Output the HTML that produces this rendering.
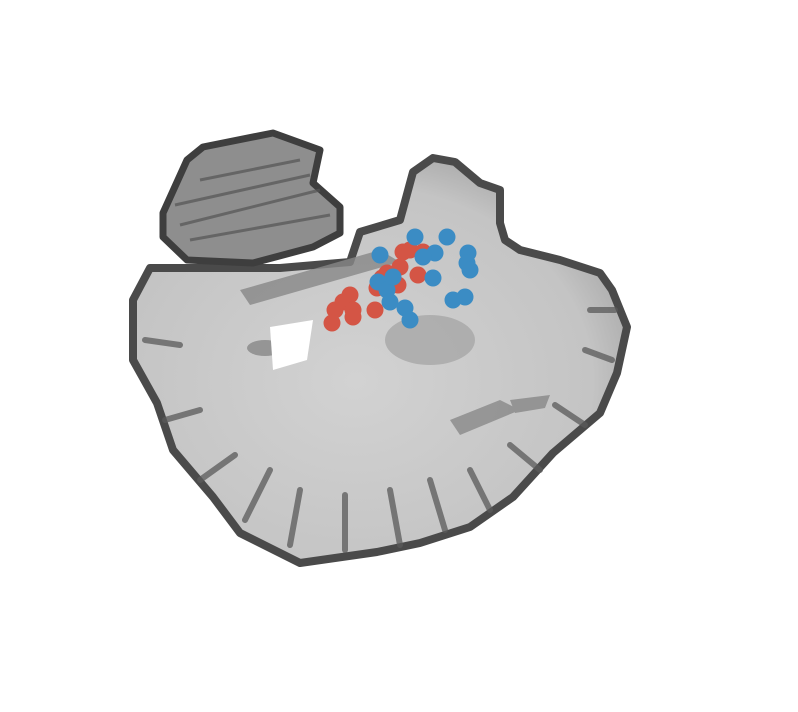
<!DOCTYPE html>
<html><head><meta charset="utf-8"><style>html,body{margin:0;padding:0;background:#fff;width:798px;height:712px;overflow:hidden}</style></head>
<body>
<svg width="798" height="712" viewBox="0 0 798 712" xmlns="http://www.w3.org/2000/svg">
<defs>
<radialGradient id="wm" cx="0.45" cy="0.55" r="0.6"><stop offset="0" stop-color="#d2d2d2"/><stop offset="0.8" stop-color="#c4c4c4"/><stop offset="1" stop-color="#a8a8a8"/></radialGradient>
</defs>
<g>
<path fill="url(#wm)" stroke="#4a4a4a" stroke-width="8" stroke-linejoin="round"
 d="M133,300 L150,268 L280,268 L350,262 L360,232 L400,220 L413,172 L433,158 L455,162 L480,183 L500,190 L500,223 L505,240 L520,250 L560,260 L600,273 L612,290 L627,327 L617,373 L600,413 L553,453 L513,497 L470,527 L420,543 L377,552 L300,563 L240,533 L213,497 L173,450 L157,403 L133,360 Z"/>
<g stroke="#5a5a5a" stroke-width="6" stroke-linecap="round" fill="none" opacity="0.75">
<path d="M200,480 L235,455"/><path d="M245,520 L270,470"/><path d="M290,545 L300,490"/><path d="M345,550 L345,495"/><path d="M400,545 L390,490"/><path d="M445,530 L430,480"/><path d="M490,510 L470,470"/><path d="M540,470 L510,445"/><path d="M585,425 L555,405"/><path d="M612,360 L585,350"/><path d="M615,310 L590,310"/><path d="M165,420 L200,410"/><path d="M145,340 L180,345"/>
</g>
<path fill="#8e8e8e" stroke="#3e3e3e" stroke-width="7" stroke-linejoin="round"
 d="M163,213 L187,160 L203,147 L273,133 L320,150 L313,183 L340,207 L340,233 L313,247 L253,263 L187,260 L163,237 Z"/>
<g stroke="#555" stroke-width="3" fill="none" opacity="0.7">
<path d="M180,225 L320,190"/><path d="M190,240 L330,215"/><path d="M200,180 L300,160"/><path d="M175,205 L310,175"/>
</g>
<g fill="#888" opacity="0.8">
<ellipse cx="430" cy="340" rx="45" ry="25" fill="#a8a8a8"/>
<path d="M240,290 L380,250 L400,262 L250,305 Z"/>
<ellipse cx="265" cy="348" rx="18" ry="8"/>
<path d="M450,420 L500,400 L520,410 L460,435 Z"/>
<path d="M510,400 L550,395 L545,408 L515,413 Z"/>
</g>
<path fill="#fff" d="M270,327 L313,320 L307,360 L273,370 Z"/>
</g>
<g id="pts"></g>
</svg>
<script>
const redX=[403,410,423,400,387,418,398,377,350,343,335,353,375,332,353,382];
const redY=[252,250,252,267,273,275,285,288,295,302,310,310,310,323,317,278];
const blueX=[415,447,380,435,423,468,467,470,433,378,387,390,405,410,453,465,393];
const blueY=[237,237,255,253,257,253,263,270,278,282,290,302,308,320,300,297,277];
const g=document.getElementById('pts');
function dot(x,y,c,n){const e=document.createElementNS('http://www.w3.org/2000/svg','circle');
e.setAttribute('cx',x);e.setAttribute('cy',y);e.setAttribute('r',8.5);e.setAttribute('fill',c);


g.appendChild(e);}
redX.forEach((x,i)=>dot(x,redY[i],'#d45545','red-point'));
blueX.forEach((x,i)=>dot(x,blueY[i],'#3b8cc4','blue-point'));
</script>
</body></html>
